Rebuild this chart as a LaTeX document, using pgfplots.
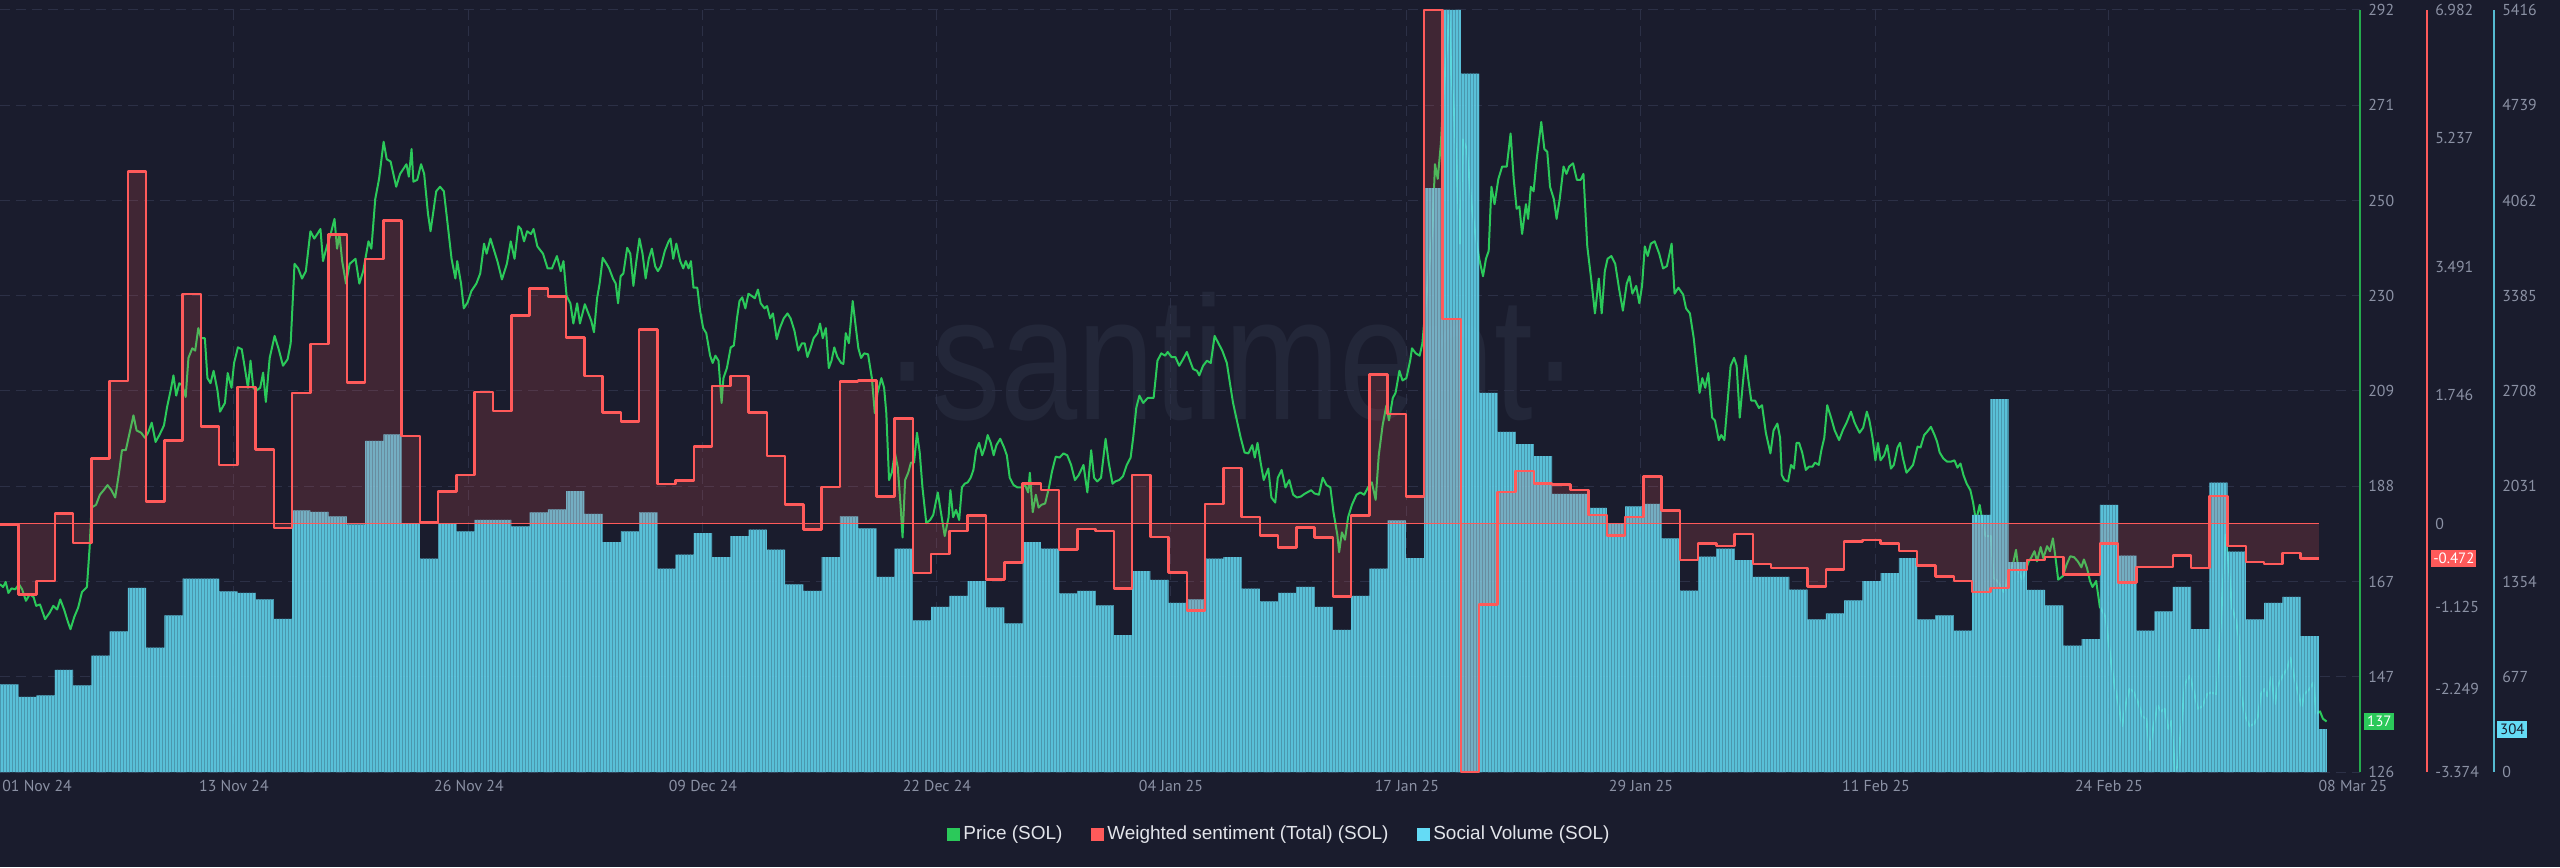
\documentclass[border=0pt]{standalone}
\usepackage{pgfplots}
\pgfplotsset{compat=1.18}
\usetikzlibrary{patterns.meta}
\usepackage{fontspec}
\setmainfont{Liberation Sans}
\newfontfamily\tickfont{PT Sans}

\definecolor{bgc}{HTML}{1A1C2D}
\definecolor{gridc}{HTML}{2C3046}
\definecolor{tickc}{HTML}{8B91A4}
\definecolor{pricec}{HTML}{2BC95A}
\definecolor{sentc}{HTML}{FF5A5A}
\definecolor{volc}{HTML}{64DBF5}
\definecolor{legtext}{HTML}{E2E4EA}
\definecolor{markc}{HTML}{232739}

\pgfplotsset{
  basechart/.style={
    at={(0,1.9cm)}, anchor=south west,
    scale only axis, width=47.2cm, height=15.24cm,
    xmin=0, xmax=129.25,
    major tick length=0pt,
    tick label style={font=\tickfont\fontsize{9}{11}\selectfont, text=tickc},
    /pgf/number format/assume math mode=true,
  },
  rightaxis/.style={
    axis y line*=right,
    y axis line style={draw=none},
    yticklabel style={anchor=west, inner sep=0pt, xshift=#1},
  },
}

\begin{document}
\begin{tikzpicture}
\fill[bgc] (0,0) rectangle (51.2cm,17.34cm);
\node[anchor=base, text=markc, font=\fontsize{100}{100}\selectfont, xscale=0.79, inner sep=0pt] at (24.64cm,8.94cm) {·santiment·};

% price, grid, dates, legend
\begin{axis}[basechart, rightaxis=0.16cm,
  ymin=126, ymax=292,
  axis x line*=bottom, x axis line style={draw=none},
  ytick={126,146.75,167.5,188.25,209,229.75,250.5,271.25,292},
  yticklabels={126,147,167,188,209,230,250,271,292},
  xtick={12.81,25.68,38.50,51.31,64.13,77.05,89.87,102.74,115.50},
  xticklabels={13 Nov 24,26 Nov 24,09 Dec 24,22 Dec 24,04 Jan 25,17 Jan 25,29 Jan 25,11 Feb 25,24 Feb 25},
  extra x ticks={2.03,128.86},
  extra x tick labels={01 Nov 24,08 Mar 25},
  extra x tick style={xmajorgrids=false},
  xticklabel style={anchor=north, inner sep=0pt, yshift=-0.16cm},
  xmajorgrids=true, ymajorgrids=true,
  grid style={gridc, dash pattern=on 0.2cm off 0.12cm, line width=0.02cm},
  legend columns=-1,
  legend style={at={(axis description cs:0.5424,-0.0814)}, anchor=center, draw=none, fill=none,
    text=legtext, font=\fontsize{10.8}{13}\selectfont,
    /tikz/every even column/.append style={column sep=0.5cm}},
  legend image code/.code={\fill[#1] (0cm,-0.12cm) rectangle (0.24cm,0.12cm);},
]
\addplot[forget plot, pricec, line width=0.04cm, line join=round] coordinates {
(0,166.9)(0.17,166.3)(0.31,167.4)(0.46,165.0)(0.63,166.0)(0.84,165.8)(1.04,166.9)(1.21,165.8)(1.42,163.3)(1.63,164.7)(1.84,164.1)(1.98,162.2)(2.19,162.5)(2.47,159.3)(2.72,160.7)(2.92,162.2)(3.13,161.4)(3.30,163.6)(3.51,161.4)(3.72,158.7)(3.86,157.1)(4.07,159.8)(4.28,161.8)(4.49,165.2)(4.76,166.3)(4.91,175.0)(5.01,183.6)(5.26,184.2)(5.47,186.4)(5.68,187.4)(5.89,188.5)(6.10,187.4)(6.31,185.8)(6.52,191.2)(6.68,196.1)(6.89,196.1)(7.10,199.9)(7.31,203.7)(7.48,200.4)(7.73,199.9)(7.94,198.8)(8.11,199.9)(8.31,202.1)(8.52,197.9)(8.73,199.4)(8.98,201.5)(9.15,205.5)(9.36,209.4)(9.50,212.4)(9.65,208.0)(9.82,210.7)(9.99,210.2)
(10.17,207.7)(10.32,216.2)(10.53,218.3)(10.69,217.8)(10.86,222.7)(11.01,220.5)(11.22,220.5)(11.36,211.8)(11.53,210.7)(11.70,213.4)(11.91,209.1)(12.05,204.5)(12.32,206.4)(12.47,212.9)(12.68,209.7)(12.82,215.1)(13.03,218.5)(13.24,218.1)(13.41,214.0)(13.58,209.7)(13.72,215.6)(13.87,209.7)(14.04,209.1)(14.25,209.7)(14.41,213.0)(14.56,206.6)(14.77,216.2)(15.04,221.0)(15.25,218.3)(15.50,214.5)(15.75,215.9)(15.92,219.4)(16.13,236.7)(16.33,235.7)(16.54,233.5)(16.75,235.1)(17.00,243.8)(17.21,242.2)(17.38,243.2)(17.55,244.3)(17.69,237.3)(17.90,240.5)(18.11,243.2)(18.32,246.5)(18.46,240.0)(18.59,243.2)(18.74,237.3)(18.95,232.4)(19.15,236.7)(19.47,237.8)(19.68,232.4)(19.89,235.1)
(20.18,241.6)(20.34,240.0)(20.55,250.8)(20.76,255.2)(21.01,263.3)(21.18,259.5)(21.39,259.0)(21.70,253.5)(21.91,256.3)(22.26,258.4)(22.39,255.7)(22.54,261.7)(22.64,254.6)(22.85,255.0)(23.06,258.4)(23.23,256.3)(23.44,247.6)(23.58,243.8)(23.79,249.7)(23.89,252.5)(24.10,253.5)(24.31,252.5)(24.56,243.8)(24.73,237.8)(24.94,233.5)(25.04,237.3)(25.25,232.4)(25.40,227.0)(25.61,228.3)(25.82,230.8)(26.09,232.4)(26.30,234.6)(26.51,241.1)(26.65,238.9)(26.86,242.2)(27.07,239.5)(27.24,237.3)(27.49,233.3)(27.76,236.7)(27.97,241.6)(28.18,237.8)(28.39,244.9)(28.53,244.3)(28.70,241.6)(28.87,243.8)(29.08,243.2)(29.22,244.3)(29.43,240.5)(29.74,238.9)(29.99,235.7)
(30.23,235.7)(30.50,238.4)(30.71,235.1)(30.86,237.3)(31.03,229.7)(31.24,228.1)(31.40,223.7)(31.61,228.1)(31.76,223.7)(32.03,227.9)(32.38,224.3)(32.53,221.8)(32.70,229.2)
(32.84,232.4)(33.01,238.0)(33.22,236.7)(33.36,235.7)(33.57,233.5)(33.72,232.4)(33.85,228.1)(33.99,234.0)(34.14,234.6)(34.35,240.2)(34.52,238.9)(34.69,231.9)(34.83,236.7)(35.02,242.2)(35.19,238.9)(35.36,233.5)(35.53,237.8)(35.70,240.0)(35.88,236.2)(36.03,235.1)(36.20,236.2)(36.41,239.5)(36.62,241.6)(36.72,242.2)(36.87,237.8)(37.04,241.1)(37.25,237.3)(37.42,235.7)(37.56,237.3)(37.71,235.7)(37.84,237.3)(37.98,231.5)(38.19,231.5)(38.34,226.5)(38.51,222.7)(38.68,221.6)(38.89,216.7)(39.03,215.1)(39.18,216.7)(39.35,215.6)(39.52,206.4)(39.62,211.8)(39.81,214.0)(40.02,218.5)(40.19,218.9)(40.36,224.8)(40.50,228.6)(40.65,229.4)(40.82,227.0)(40.99,230.2)(41.17,229.7)(41.34,229.2)(41.51,231.1)(41.66,228.1)(41.87,227.0)(42.01,227.5)(42.18,224.8)(42.33,225.9)(42.54,220.3)(42.71,222.7)(42.92,224.8)(43.13,225.9)(43.30,224.8)(43.51,222.1)(43.72,217.8)(43.92,219.4)(44.07,219.4)(44.22,216.4)(44.39,218.3)(44.56,220.5)(44.77,221.6)(44.91,223.7)(45.06,220.5)(45.23,222.7)(45.39,214.0)(45.54,215.6)(45.69,218.5)(45.86,216.4)(46.07,215.1)(46.19,214.9)(46.32,221.6)(46.49,219.4)(46.70,228.6)(46.86,223.2)(47.01,218.3)(47.16,216.2)(47.33,217.2)(47.54,217.0)(47.75,211.8)(47.91,204.2)(48.06,208.6)(48.27,211.8)(48.42,209.7)(48.54,204.2)(48.69,189.6)(48.84,191.2)(49.01,195.6)(49.17,192.3)(49.32,184.2)(49.43,177.1)(49.57,189.6)(49.74,191.2)(49.89,193.4)
(50.06,193.4)(50.22,199.9)(50.37,195.6)(50.52,188.0)(50.73,180.2)(50.94,180.9)(51.11,182.0)(51.36,186.9)(51.53,182.6)(51.74,177.4)(51.95,181.5)(52.05,187.4)(52.20,181.5)(52.36,183.1)(52.53,180.9)(52.68,188.0)(52.83,188.8)(53.00,189.1)(53.16,190.1)(53.31,191.8)(53.46,196.1)(53.62,197.7)(53.79,195.0)(53.94,196.7)(54.09,199.4)(54.26,197.7)(54.42,195.0)(54.57,197.2)(54.78,198.6)(54.99,196.7)(55.14,195.0)(55.30,190.1)(55.51,188.5)(55.72,188.0)(55.93,188.0)(56.14,188.5)(56.31,186.9)(56.40,191.2)(56.56,182.6)(56.73,186.4)(56.88,183.6)(57.03,184.2)(57.24,184.5)(57.45,188.0)(57.61,191.4)(57.82,194.7)(58.03,194.5)(58.24,195.4)(58.45,195.0)(58.66,192.9)(58.87,189.6)(59.08,190.7)(59.34,192.9)(59.55,186.9)(59.76,196.1)(59.92,190.1)(60.09,189.3)(60.30,190.1)(60.55,198.6)(60.72,193.4)(60.93,188.8)(61.08,189.3)(61.29,189.6)(61.50,190.4)(61.71,192.9)(61.92,194.5)(62.06,198.8)(62.23,205.3)(62.40,208.0)(62.61,206.4)(62.86,207.5)(63.18,207.5)(63.39,215.6)(63.60,217.2)(63.81,216.7)(63.95,217.5)(64.16,216.4)(64.37,216.4)(64.58,214.5)(64.79,215.9)(65.00,217.5)(65.17,215.6)(65.34,213.8)(65.55,213.4)
(65.68,212.4)(65.89,214.5)(66.10,215.6)(66.31,215.1)(66.52,221.0)(66.73,219.4)(66.94,217.8)(67.19,215.1)(67.36,210.7)(67.53,206.4)(67.74,202.6)(67.95,198.8)(68.16,195.6)(68.37,195.4)(68.58,197.2)(68.72,194.5)(68.87,197.7)(69.04,193.4)(69.21,189.6)(69.46,192.1)(69.63,185.8)(69.84,184.7)(69.98,190.1)(70.19,191.8)(70.40,188.0)(70.61,189.6)(70.82,186.4)(71.03,185.8)(71.24,186.0)(71.45,186.6)(71.81,187.4)(71.98,186.7)(72.23,186.4)(72.44,190.1)(72.65,188.5)(72.86,188.0)(73.03,182.6)(73.24,177.7)(73.34,173.9)(73.49,178.2)(73.66,176.6)(73.83,181.5)(74.04,184.2)(74.29,186.4)(74.50,186.9)(74.71,186.4)(74.92,188.0)(75.13,189.1)(75.34,185.3)(75.51,195.0)(75.72,201.5)(75.93,205.9)(76.07,202.6)(76.28,207.5)(76.43,208.6)(76.64,213.4)(76.81,211.3)(77.02,211.8)(77.23,215.6)(77.33,218.3)(77.54,217.2)(77.75,216.7)(77.90,219.4)(78.11,229.2)(78.28,236.7)(78.45,244.3)(78.59,258.4)(78.74,255.2)(78.91,262.8)(79.07,274.7)(79.22,282.3)(79.37,291.0)(79.49,277.9)(79.64,269.3)(79.79,256.3)(79.96,241.1)(80.12,263.8)(80.33,261.7)(80.59,249.7)(80.80,243.2)(81.01,237.8)(81.22,234.0)(81.38,237.8)(81.53,239.5)(81.68,253.5)(81.85,249.7)(82.06,255.2)(82.27,257.9)(82.52,257.9)(82.73,265.1)(82.90,255.2)(83.06,248.7)(83.21,249.2)(83.36,243.2)(83.57,249.7)(83.69,246.5)(83.84,253.5)(83.99,252.5)(84.16,259.5)(84.41,267.6)(84.58,261.7)(84.74,261.1)(84.89,253.5)(85.10,250.8)(85.25,246.5)(85.42,250.8)(85.63,257.9)(85.79,256.3)(85.94,257.9)(86.15,258.6)(86.36,255.0)(86.57,255.0)(86.72,256.3)(86.93,240.5)(87.14,233.5)(87.35,225.9)(87.56,233.5)(87.72,225.9)(87.89,235.1)(88.04,237.8)(88.25,238.4)(88.46,236.7)(88.67,231.3)(88.88,226.5)(89.09,232.4)(89.24,234.0)(89.40,230.2)(89.61,231.9)(89.78,228.1)(89.93,231.9)
(90.08,240.5)(90.24,238.4)(90.41,241.1)(90.62,241.6)(90.87,238.9)(91.08,235.7)(91.29,236.2)(91.55,241.1)(91.71,230.2)(91.92,231.5)(92.18,230.0)(92.34,227.0)(92.55,225.9)(92.76,220.5)(92.93,214.0)(93.08,208.6)(93.23,211.8)(93.39,209.7)(93.56,212.9)(93.77,203.2)(93.92,202.6)(94.13,198.3)(94.27,199.4)(94.44,198.3)(94.61,206.4)(94.78,214.5)(94.97,216.2)(95.11,214.5)(95.28,203.2)(95.45,210.7)(95.60,216.7)(95.74,211.8)(95.91,206.9)(96.12,206.9)(96.33,205.3)(96.50,205.9)(96.71,199.9)(96.96,195.4)(97.13,200.4)(97.34,201.9)(97.49,198.8)
(97.58,190.7)(97.72,189.6)(97.93,189.3)(98.09,192.9)(98.25,192.1)(98.39,197.7)(98.53,197.7)(98.70,195.6)(98.90,191.8)(99.06,192.5)(99.26,192.5)(99.40,193.4)(99.61,192.9)(99.75,196.1)(99.91,198.8)(100.07,205.9)(100.28,203.2)(100.48,200.4)(100.72,198.3)(100.92,200.4)(101.13,202.1)(101.37,204.5)(101.57,202.1)(101.84,199.9)(102.04,201.0)(102.24,204.5)(102.38,202.6)(102.55,198.8)(102.71,193.9)(102.85,197.7)(102.99,193.9)(103.19,195.0)(103.36,197.2)(103.56,192.1)(103.72,192.9)(103.92,196.7)(104.06,197.7)(104.21,194.5)(104.41,191.2)(104.61,192.1)(104.77,192.9)(105.02,196.9)(105.18,196.7)(105.38,199.4)(105.54,200.1)(105.75,201.2)(105.95,199.4)(106.09,197.9)(106.23,195.6)(106.43,194.3)(106.64,193.6)(106.84,193.6)(107.04,193.9)(107.20,192.3)(107.37,193.2)(107.53,190.7)(107.71,188.8)(107.91,187.4)(108.06,184.7)(108.22,180.6)(108.42,184.2)(108.58,180.4)(108.74,177.4)(109.03,177.4)(109.19,168.3)(109.39,167.6)(109.60,166.3)(109.74,165.2)(109.88,166.9)
(110.08,170.1)(110.24,171.2)(110.41,174.4)(110.55,169.8)(110.75,167.9)(110.95,170.1)(111.09,171.7)(111.26,172.8)(111.42,174.1)(111.56,171.9)(111.76,175.0)(111.91,172.6)(112.11,175.2)(112.27,174.1)(112.43,176.9)(112.57,172.8)(112.72,167.9)(112.98,168.7)(113.18,171.2)(113.38,173.0)(113.59,172.8)(113.79,171.9)(113.99,170.6)(114.13,172.3)(114.30,170.4)(114.46,167.6)(114.60,166.3)(114.80,167.6)(115.00,162.0)(115.31,159.8)(115.61,150.1)(115.82,144.6)(116.02,140.8)(116.22,136.0)(116.42,140.8)(116.63,144.1)(116.83,143.6)(117.09,141.2)(117.33,138.1)(117.54,137.6)(117.74,130.8)(117.94,136.0)(118.17,140.5)(118.35,139.2)(118.55,139.8)(118.75,135.4)(118.92,137.1)(119.12,126.2)(119.26,127.3)(119.46,136.0)(119.66,145.2)(119.93,147.0)
(120.13,143.8)(120.37,139.8)(120.62,140.3)(120.88,143.0)(121.08,143.3)(121.39,143.0)(121.63,158.7)(121.89,177.7)(122.04,171.7)(122.24,161.8)(122.44,159.3)(122.60,155.5)(122.76,142.5)(122.97,138.1)(123.21,136.0)(123.45,136.5)(123.66,138.1)(123.82,143.0)(124.02,144.1)(124.18,142.5)(124.39,146.8)(124.59,140.8)(124.73,144.6)(124.99,146.8)(125.24,148.4)(125.44,150.9)(125.64,146.8)(125.84,143.6)(126.05,140.3)(126.21,143.0)(126.49,144.1)(126.69,145.5)(126.86,138.7)(127.06,139.2)(127.22,137.6)(127.42,137.0)
};
\coordinate (pb) at (axis cs:129.25,137);
\addlegendimage{pricec}
\addlegendentry{Price (SOL)}
\addlegendimage{sentc}
\addlegendentry{Weighted sentiment (Total) (SOL)}
\addlegendimage{volc}
\addlegendentry{Social Volume (SOL)}
\end{axis}

% social volume bars
\begin{axis}[basechart, rightaxis=2.84cm, axis x line=none,
  ymin=0, ymax=5416,
  ytick={0,677,1354,2031,2708,3385,4062,4739,5416},
  yticklabels={0,677,1354,2031,2708,3385,4062,4739,5416},
]
\addplot[const plot, draw=none, fill=volc, fill opacity=0.86, postaction={pattern={Lines[angle=90,distance=0.06cm,line width=0.012cm]}, pattern color=bgc!35!volc}] coordinates {
(0,622)(1,534)(2,544)(3,725)(4,615)(5,827)(6,1000)(7,1308)(8,884)(9,1113)
(10,1375)(11,1375)(12,1283)(13,1273)(14,1227)(15,1089)(16,1859)(17,1849)(18,1817)(19,1760)
(20,2354)(21,2400)(22,1767)(23,1517)(24,1767)(25,1711)(26,1792)(27,1792)(28,1746)(29,1845)
(30,1866)(31,1997)(32,1835)(33,1633)(34,1711)(35,1845)(36,1446)(37,1545)(38,1697)(39,1527)
(40,1676)(41,1722)(42,1580)(43,1333)(44,1287)(45,1527)(46,1817)(47,1732)(48,1386)(49,1587)
(50,1078)(51,1174)(52,1251)(53,1357)(54,1170)(55,1057)(56,1633)(57,1587)(58,1269)(59,1287)
(60,1184)(61,972)(62,1428)(63,1365)(64,1202)(65,1227)(66,1517)(67,1527)(68,1304)(69,1213)
(70,1273)(71,1315)(72,1174)(73,1011)(74,1251)(75,1446)(76,1789)(77,1520)(78,4150)(79,5416)
(80,4963)(81,2694)(82,2418)(83,2330)(84,2245)(85,1976)(86,1976)(87,1877)(88,1764)(89,1888)
(90,1905)(91,1661)(92,1290)(93,1531)(94,1587)(95,1506)(96,1386)(97,1386)(98,1297)(99,1085)
(100,1128)(101,1220)(102,1357)(103,1414)(104,1520)(105,1085)(106,1114)(107,1004)(108,1828)(109,2651)
(110,1492)(111,1294)(112,1184)(113,898)(114,944)(115,1898)(116,1538)(117,1004)(118,1142)(119,1315)
(120,1015)(121,2057)(122,1566)(123,1085)(124,1202)(125,1244)(126,965)(127,304)(127.44,304)
} \closedcycle;
\coordinate (vb) at (axis cs:129.25,304);
\end{axis}

% weighted sentiment
\begin{axis}[basechart, rightaxis=1.50cm, axis x line=none,
  ymin=-3.374, ymax=6.982,
  ytick={-3.374,-2.249,-1.125,0,1.746,3.491,5.237,6.982},
  yticklabels={-3.374,-2.249,-1.125,0,1.746,3.491,5.237,6.982},
]
\addplot[const plot, draw=none, fill=sentc, fill opacity=0.17] coordinates {
(0,-0.01)(1,-0.96)(2,-0.78)(3,0.14)(4,-0.26)(5,0.89)(6,1.94)(7,4.79)(8,0.30)(9,1.13)
(10,3.12)(11,1.32)(12,0.80)(13,1.86)(14,1.01)(15,-0.06)(16,1.78)(17,2.44)(18,3.93)(19,1.92)
(20,3.60)(21,4.12)(22,1.19)(23,0.02)(24,0.44)(25,0.66)(26,1.79)(27,1.53)(28,2.83)(29,3.20)
(30,3.09)(31,2.53)(32,2.01)(33,1.51)(34,1.39)(35,2.64)(36,0.54)(37,0.59)(38,1.05)(39,1.87)
(40,2.01)(41,1.51)(42,0.92)(43,0.26)(44,-0.08)(45,0.50)(46,1.93)(47,1.95)(48,0.37)(49,1.43)
(50,-0.67)(51,-0.41)(52,-0.10)(53,0.11)(54,-0.76)(55,-0.53)(56,0.55)(57,0.46)(58,-0.35)(59,-0.07)
(60,-0.10)(61,-0.88)(62,0.66)(63,-0.18)(64,-0.66)(65,-1.18)(66,0.27)(67,0.76)(68,0.09)(69,-0.16)
(70,-0.32)(71,-0.05)(72,-0.19)(73,-0.99)(74,0.11)(75,2.03)(76,1.49)(77,0.37)(78,6.982)(79,2.78)
(80,-3.374)(81,-1.10)(82,0.43)(83,0.72)(84,0.55)(85,0.53)(86,0.46)(87,0.12)(88,-0.16)(89,0.09)
(90,0.64)(91,0.18)(92,-0.49)(93,-0.27)(94,-0.30)(95,-0.14)(96,-0.55)(97,-0.60)(98,-0.60)(99,-0.85)
(100,-0.62)(101,-0.24)(102,-0.22)(103,-0.27)(104,-0.37)(105,-0.57)(106,-0.72)(107,-0.78)(108,-0.93)(109,-0.87)
(110,-0.63)(111,-0.49)(112,-0.45)(113,-0.69)(114,-0.69)(115,-0.27)(116,-0.80)(117,-0.59)(118,-0.59)(119,-0.43)
(120,-0.60)(121,0.38)(122,-0.30)(123,-0.52)(124,-0.55)(125,-0.40)(126,-0.472)(127,-0.472)
} \closedcycle;
\addplot[sentc, line width=0.02cm] coordinates {(0,0) (127,0)};
\addplot[const plot, sentc, line width=0.05cm, line join=round] coordinates {
(0,-0.01)(1,-0.96)(2,-0.78)(3,0.14)(4,-0.26)(5,0.89)(6,1.94)(7,4.79)(8,0.30)(9,1.13)
(10,3.12)(11,1.32)(12,0.80)(13,1.86)(14,1.01)(15,-0.06)(16,1.78)(17,2.44)(18,3.93)(19,1.92)
(20,3.60)(21,4.12)(22,1.19)(23,0.02)(24,0.44)(25,0.66)(26,1.79)(27,1.53)(28,2.83)(29,3.20)
(30,3.09)(31,2.53)(32,2.01)(33,1.51)(34,1.39)(35,2.64)(36,0.54)(37,0.59)(38,1.05)(39,1.87)
(40,2.01)(41,1.51)(42,0.92)(43,0.26)(44,-0.08)(45,0.50)(46,1.93)(47,1.95)(48,0.37)(49,1.43)
(50,-0.67)(51,-0.41)(52,-0.10)(53,0.11)(54,-0.76)(55,-0.53)(56,0.55)(57,0.46)(58,-0.35)(59,-0.07)
(60,-0.10)(61,-0.88)(62,0.66)(63,-0.18)(64,-0.66)(65,-1.18)(66,0.27)(67,0.76)(68,0.09)(69,-0.16)
(70,-0.32)(71,-0.05)(72,-0.19)(73,-0.99)(74,0.11)(75,2.03)(76,1.49)(77,0.37)(78,6.982)(79,2.78)
(80,-3.374)(81,-1.10)(82,0.43)(83,0.72)(84,0.55)(85,0.53)(86,0.46)(87,0.12)(88,-0.16)(89,0.09)
(90,0.64)(91,0.18)(92,-0.49)(93,-0.27)(94,-0.30)(95,-0.14)(96,-0.55)(97,-0.60)(98,-0.60)(99,-0.85)
(100,-0.62)(101,-0.24)(102,-0.22)(103,-0.27)(104,-0.37)(105,-0.57)(106,-0.72)(107,-0.78)(108,-0.93)(109,-0.87)
(110,-0.63)(111,-0.49)(112,-0.45)(113,-0.69)(114,-0.69)(115,-0.27)(116,-0.80)(117,-0.59)(118,-0.59)(119,-0.43)
(120,-0.60)(121,0.38)(122,-0.30)(123,-0.52)(124,-0.55)(125,-0.40)(126,-0.472)(127,-0.472)
};
\coordinate (sb) at (axis cs:129.25,-0.472);
\end{axis}

% right axis lines and last-value badges
\draw[pricec!85!black, line width=0.04cm] (47.2cm,1.9cm) -- (47.2cm,17.14cm);
\draw[sentc, line width=0.04cm] (48.54cm,1.9cm) -- (48.54cm,17.14cm);
\draw[volc!85!black, line width=0.04cm] (49.88cm,1.9cm) -- (49.88cm,17.14cm);
\node[anchor=west, fill=pricec, text=white, inner sep=0pt, minimum width=0.6cm, minimum height=0.34cm, font=\tickfont\fontsize{8.5}{9}\selectfont] at ([xshift=0.08cm]pb) {137};
\node[anchor=west, fill=sentc, text=white, inner sep=0pt, minimum width=0.9cm, minimum height=0.33cm, font=\tickfont\fontsize{8.5}{9}\selectfont] at ([xshift=1.42cm]sb) {-0.472};
\node[anchor=west, fill=volc, text=bgc, inner sep=0pt, minimum width=0.6cm, minimum height=0.34cm, font=\tickfont\fontsize{8.5}{9}\selectfont] at ([xshift=2.74cm]vb) {304};

\pgfresetboundingbox
\path (0,0) rectangle (51.2cm,17.34cm);
\end{tikzpicture}
\end{document}
